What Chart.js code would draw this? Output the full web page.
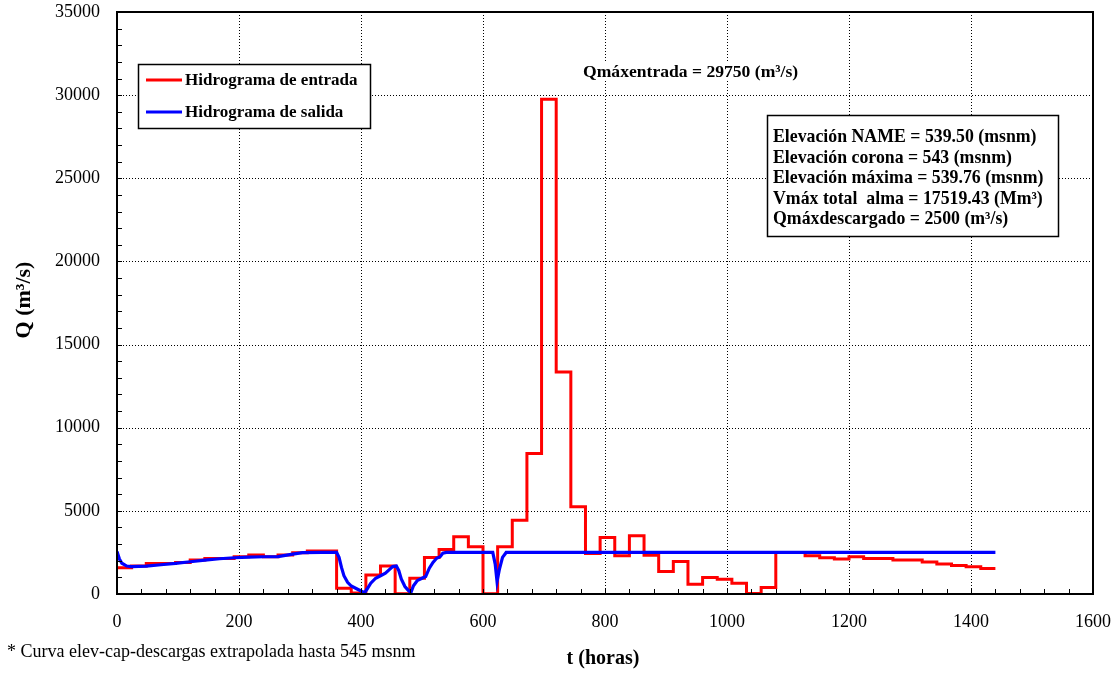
<!DOCTYPE html>
<html>
<head>
<meta charset="utf-8">
<script src="https://cdn.jsdelivr.net/npm/chart.js@4.4.1/dist/chart.umd.min.js"></script>
<style>
  html, body { margin: 0; padding: 0; background: #ffffff; }
  #wrap { width: 1119px; height: 673px; position: relative; }
</style>
</head>
<body>
<div id="wrap"><canvas id="c" width="1119" height="673"></canvas></div>
<script>
// ---- Data ----
// Hidrograma de entrada: daily steps (value holds from the given hour to the next)
const horasEntrada = [0,24,48,72,96,120,144,168,192,216,240,264,288,312,336,
  360,384,408,432,456,480,504,528,552,576,600,624,648,672,696,720,744,768,792,816,
  840,864,888,912,936,960,984,1008,1032,1056,1080,1104,1128,1152,1176,1200,1224,
  1248,1272,1296,1320,1344,1368,1392,1416,1440];
const qEntrada = [1580,1680,1840,1840,1900,2040,2140,2140,2240,2340,2240,2340,2480,2580,2580,
  340,60,1140,1680,20,940,2200,2680,3440,2840,20,2840,4440,8450,29750,13350,5250,2430,3400,2300,
  3500,2330,1350,1950,590,990,890,650,30,390,2500,2500,2300,2180,2100,2240,2140,
  2140,2040,2040,1920,1800,1720,1640,1540,1540];

// Hidrograma de salida
const horasSalida = [0,4,8,16,24,48,72,96,120,144,168,192,216,240,264,288,304,336,360,
  364,368,372,378,384,392,400,406,410,416,424,432,440,446,452,458,462,466,472,478,482,
  486,492,500,506,512,518,524,530,534,540,616,620,623,627,632,638,1440];
const qSalida = [2550,2100,1850,1680,1650,1680,1760,1840,1940,2040,2120,2180,2220,2240,2250,2400,2490,2500,2500,
  2200,1600,1100,700,480,330,180,80,300,650,950,1100,1250,1450,1650,1680,1400,900,450,200,100,
  500,800,950,1050,1550,1900,2150,2250,2450,2500,2500,1800,750,1500,2200,2500,2500];

const ejeXTicks = [0,200,400,600,800,1000,1200,1400,1600];
const ejeYTicks = [0,5000,10000,15000,20000,25000,30000,35000];

const etiquetaEntrada = 'Hidrograma de entrada';
const etiquetaSalida = 'Hidrograma de salida';
const textoQmax = 'Qmáxentrada = 29750 (m³/s)';
const textoCaja = [
  'Elevación NAME = 539.50 (msnm)',
  'Elevación corona = 543 (msnm)',
  'Elevación máxima = 539.76 (msnm)',
  'Vmáx total  alma = 17519.43 (Mm³)',
  'Qmáxdescargado = 2500 (m³/s)'
];
const tituloY = 'Q (m³/s)';
const tituloX = 't (horas)';
const notaPie = '* Curva elev-cap-descargas extrapolada hasta 545 msnm';

const SERIF = '"Liberation Serif", "Times New Roman", serif';

const datosEntrada = horasEntrada.map((h, i) => ({x: h, y: qEntrada[i]}));
const datosSalida = horasSalida.map((h, i) => ({x: h, y: qSalida[i]}));

function sinPadding(s) {
  s.paddingTop = 0; s.paddingBottom = 0; s.paddingLeft = 0; s.paddingRight = 0;
}

const decor = {
  id: 'decor',
  beforeDatasetsDraw(chart) {
    const ctx = chart.ctx;
    const a = chart.chartArea;
    const xs = chart.scales.x, ys = chart.scales.y;
    ctx.save();
    ctx.strokeStyle = '#000';
    ctx.lineWidth = 1;
    ctx.setLineDash([1, 2]);
    ejeXTicks.forEach(v => {
      if (v === 0 || v === 1600) return;
      const px = Math.round(xs.getPixelForValue(v)) + 0.5;
      ctx.beginPath(); ctx.moveTo(px, a.top); ctx.lineTo(px, a.bottom); ctx.stroke();
    });
    ejeYTicks.forEach(v => {
      if (v === 0 || v === 35000) return;
      const py = Math.round(ys.getPixelForValue(v)) + 0.5;
      ctx.beginPath(); ctx.moveTo(a.left, py); ctx.lineTo(a.right, py); ctx.stroke();
    });
    ctx.restore();
  },
  afterDatasetsDraw(chart) {
    const ctx = chart.ctx;
    const a = chart.chartArea;
    const xs = chart.scales.x, ys = chart.scales.y;
    ctx.save();
    // minor ticks
    ctx.strokeStyle = '#000';
    ctx.lineWidth = 1;
    for (let v = 0; v <= 1600; v += 40) {
      const px = Math.round(xs.getPixelForValue(v)) + 0.5;
      ctx.beginPath(); ctx.moveTo(px, a.bottom); ctx.lineTo(px, a.bottom - 5); ctx.stroke();
    }
    for (let v = 0; v <= 35000; v += 1000) {
      const py = Math.round(ys.getPixelForValue(v)) + 0.5;
      ctx.beginPath(); ctx.moveTo(a.left, py); ctx.lineTo(a.left + 5, py); ctx.stroke();
    }
    // plot border
    ctx.lineWidth = 2;
    ctx.strokeRect(Math.round(a.left), Math.round(a.top), Math.round(a.right - a.left), Math.round(a.bottom - a.top));

    // legend box
    ctx.fillStyle = '#fff';
    ctx.fillRect(138, 64, 232, 64);
    ctx.lineWidth = 1.5;
    ctx.strokeStyle = '#000';
    ctx.strokeRect(138.5, 64.5, 232, 64);
    ctx.lineWidth = 3;
    ctx.strokeStyle = '#ff0000';
    ctx.beginPath(); ctx.moveTo(146, 80); ctx.lineTo(182, 80); ctx.stroke();
    ctx.strokeStyle = '#0000ff';
    ctx.beginPath(); ctx.moveTo(146, 112); ctx.lineTo(182, 112); ctx.stroke();
    ctx.fillStyle = '#000';
    ctx.font = 'bold 17px ' + SERIF;
    ctx.textBaseline = 'middle';
    ctx.textAlign = 'left';
    ctx.fillText(etiquetaEntrada, 185, 81);
    ctx.fillText(etiquetaSalida, 185, 113);

    // Qmax annotation
    ctx.font = 'bold 17.6px ' + SERIF;
    const wq = ctx.measureText(textoQmax).width;
    ctx.fillStyle = '#fff';
    ctx.fillRect(581, 61, wq + 4, 20);
    ctx.fillStyle = '#000';
    ctx.fillText(textoQmax, 583, 72);

    // stats box
    ctx.fillStyle = '#fff';
    ctx.fillRect(767, 115, 291, 121);
    ctx.lineWidth = 1.5;
    ctx.strokeStyle = '#000';
    ctx.strokeRect(767.5, 115.5, 291, 121);
    ctx.fillStyle = '#000';
    ctx.font = 'bold 17.8px ' + SERIF;
    const ysBox = [137, 158, 178.5, 199, 219.5];
    textoCaja.forEach((t, i) => ctx.fillText(t, 773, ysBox[i]));

    // axis titles
    ctx.font = 'bold 20px ' + SERIF;
    ctx.textAlign = 'center';
    ctx.fillText(tituloX, 603, 659);
    ctx.save();
    ctx.translate(24, 300);
    ctx.rotate(-Math.PI / 2);
    ctx.font = 'bold 22px ' + SERIF;
    ctx.fillText(tituloY, 0, 0);
    ctx.restore();

    // footnote
    ctx.font = '18px ' + SERIF;
    ctx.textAlign = 'left';
    ctx.fillText(notaPie, 7, 652);
    ctx.restore();
  }
};

new Chart(document.getElementById('c'), {
  type: 'scatter',
  data: {
    datasets: [
      {
        label: etiquetaEntrada,
        data: datosEntrada,
        showLine: true,
        stepped: 'before',
        borderColor: '#ff0000',
        backgroundColor: '#ff0000',
        borderWidth: 3,
        pointRadius: 0,
        order: 2
      },
      {
        label: etiquetaSalida,
        data: datosSalida,
        showLine: true,
        tension: 0,
        borderColor: '#0000ff',
        backgroundColor: '#0000ff',
        borderWidth: 3.2,
        pointRadius: 0,
        order: 1
      }
    ]
  },
  options: {
    responsive: false,
    animation: false,
    devicePixelRatio: 1,
    layout: { autoPadding: false, padding: { left: 0, right: 26, top: 12, bottom: 0 } },
    plugins: { legend: { display: false }, tooltip: { enabled: false } },
    scales: {
      x: {
        type: 'linear', min: 0, max: 1600,
        afterBuildTicks: s => { s.ticks = ejeXTicks.map(v => ({value: v})); },
        afterFit: s => { s.height = 79; sinPadding(s); },
        grid: { display: false, drawTicks: false, tickLength: 0 },
        border: { display: false },
        ticks: { padding: 17, color: '#000', font: { family: SERIF, size: 18 }, maxRotation: 0, callback: v => String(v) }
      },
      y: {
        type: 'linear', min: 0, max: 35000,
        afterBuildTicks: s => { s.ticks = ejeYTicks.map(v => ({value: v})); },
        afterFit: s => { s.width = 117; sinPadding(s); },
        grid: { display: false, drawTicks: false, tickLength: 0 },
        border: { display: false },
        ticks: { padding: 17, color: '#000', font: { family: SERIF, size: 18 }, callback: v => String(v) }
      }
    }
  },
  plugins: [decor]
});
</script>
</body>
</html>
